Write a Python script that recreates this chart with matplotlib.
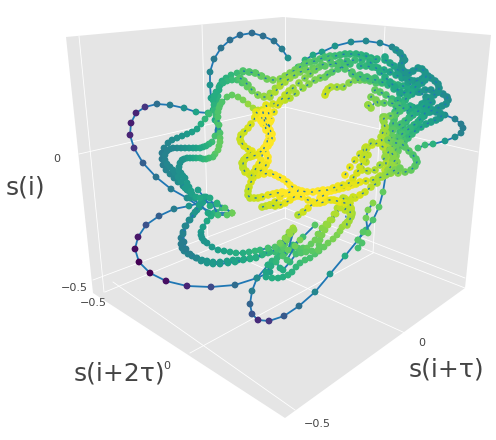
import matplotlib
matplotlib.use("Agg")
import matplotlib.pyplot as plt
from matplotlib.patches import Polygon

SCENE = [(66, 37), (283, 17), (491, 35), (465, 288), (285, 418), (93, 293)]
GRID = [
    [(79, 36), (104, 292)], [(202, 25), (208, 243)], [(285, 17), (285, 218)], [(385, 27), (373, 253)],
    [(79, 154), (285, 107), (478, 152)], [(93, 280), (285, 208), (465, 278)],
    [(105, 292), (285, 218), (465, 288)], [(113, 282), (295, 410)], [(208, 243), (405, 333)],
    [(190, 353), (373, 253)],
]

# sparse strands, line runs under the markers
top_arc_x = [218, 215, 213, 211, 210, 210, 214, 221, 230, 240, 252, 263, 274, 282, 288]
top_arc_y = [130, 120, 110, 98, 85, 72, 59, 48, 40, 35, 33, 36, 41, 49, 58]
top_arc_c = [.62, .60, .58, .56, .52, .46, .40, .38, .36, .35, .35, .36, .38, .42, .50]

right_arc_x = [290, 298, 305, 313, 322, 335, 351, 366, 380, 392, 400, 405]
right_arc_y = [77, 67, 60, 55, 52, 46, 42, 41, 43, 47, 53, 60]
right_arc_c = [.72, .68, .64, .60, .56, .52, .48, .47, .46, .46, .47, .50]

left_loop_x = [208, 196, 184, 170, 157, 145, 136, 131, 130, 134, 143, 156, 171, 187, 200, 214, 232]
left_loop_y = [113, 112, 108, 105, 104, 107, 113, 123, 135, 148, 163, 177, 189, 198, 207, 213, 213]
left_loop_c = [.66, .58, .50, .42, .36, .15, .10, .08, .10, .15, .30, .38, .42, .48, .55, .62, .78]

low_left_x = [232, 217, 203, 189, 174, 159, 146, 138, 135, 139, 150, 166, 187, 211, 235, 257, 270]
low_left_y = [213, 203, 202, 206, 209, 216, 225, 237, 249, 262, 273, 281, 286, 287, 285, 278, 272]
low_left_c = [.78, .66, .60, .52, .42, .30, .25, .06, .03, .00, .00, .04, .10, .22, .35, .46, .56]

low_right_x = [390, 386, 383, 379, 373, 366, 358, 345, 330, 315, 299, 284, 269, 258, 252, 250, 252, 257, 268, 280, 293, 303, 315]
low_right_y = [157, 173, 192, 207, 220, 230, 240, 256, 274, 292, 306, 316, 321, 320, 314, 304, 291, 278, 265, 255, 245, 237, 225]
low_right_c = [.80, .78, .76, .74, .72, .68, .66, .62, .54, .46, .36, .28, .16, .12, .26, .32, .42, .48, .56, .62, .66, .70, .74]

far_right_x = [400, 413, 430, 445, 455, 461, 463, 461, 455, 445, 433, 425, 418]
far_right_y = [103, 107, 110, 115, 119, 124, 128, 133, 137, 141, 144, 145, 148]
far_right_c = [.60, .58, .54, .48, .44, .42, .42, .44, .48, .54, .64, .68, .70]

# green strands on the left and lower side
arm_a_x = [262, 256, 250, 243, 237, 231, 226, 222, 220, 219, 218, 217, 216, 214, 209, 205, 201, 197, 192, 187, 182, 177, 172, 168, 164, 162, 162, 163, 166, 170, 174, 178, 183, 187, 191, 195]
arm_a_y = [76, 73, 72, 72, 73, 75, 78, 81, 85, 90, 96, 101, 106, 110, 114, 119, 124, 129, 132, 134, 136, 138, 140, 143, 148, 153, 159, 165, 170, 174, 178, 182, 186, 190, 194, 198]
arm_a_c = [.74, .74, .72, .70, .68, .66, .64, .62, .62, .62, .64, .64, .66, .68, .68, .66, .62, .58, .56, .54, .52, .50, .48, .46, .44, .42, .42, .42, .44, .46, .46, .48, .48, .50, .52, .54]

arm_b_x = [280, 275, 270, 264, 258, 252, 247, 242, 237, 232, 227, 223, 219, 216, 214, 213, 214, 215, 216, 217, 215, 212, 209, 206, 203, 200, 196, 193, 189, 185, 181, 177, 173, 170, 167, 165, 165, 167, 170, 173, 175, 178, 181, 185, 189, 192, 196, 200]
arm_b_y = [83, 88, 93, 96, 95, 91, 87, 83, 80, 80, 81, 83, 87, 92, 96, 100, 105, 110, 115, 122, 136, 142, 144, 146, 147, 148, 148, 148, 148, 148, 148, 148, 148, 149, 151, 155, 160, 164, 167, 170, 173, 177, 182, 188, 191, 194, 197, 198]
arm_b_c = [.84, .84, .84, .84, .80, .78, .76, .72, .70, .68, .66, .64, .62, .62, .62, .62, .64, .66, .68, .70, .70, .68, .66, .64, .62, .60, .58, .56, .54, .52, .50, .48, .46, .46, .44, .44, .44, .46, .46, .48, .48, .50, .52, .54, .54, .56, .58, .60]

arm_c_x = [266, 262, 258, 253, 248, 243, 238, 232, 227, 222, 220, 219, 218, 218, 219, 220, 220, 220, 219, 218, 215, 213, 209, 206, 203, 200, 196, 193, 190, 187, 184, 182, 180, 179, 179, 181, 183, 185, 187, 189, 191]
arm_c_y = [112, 112, 110, 108, 104, 100, 97, 95, 97, 102, 105, 108, 112, 117, 125, 133, 138, 142, 146, 150, 154, 157, 158, 159, 159, 158, 158, 158, 158, 158, 159, 160, 163, 167, 171, 173, 176, 178, 183, 187, 191]
arm_c_c = [.96, .94, .90, .86, .84, .80, .78, .76, .74, .72, .72, .72, .72, .72, .72, .72, .74, .76, .76, .76, .74, .72, .70, .68, .66, .64, .62, .60, .58, .56, .54, .52, .50, .50, .50, .50, .52, .52, .54, .54, .56]

base_a_x = [206, 202, 197, 193, 189, 185, 183, 181, 181, 182, 184, 188, 192, 197, 202, 207, 213, 220, 227, 233, 238, 244, 250, 256, 262, 268, 275, 281, 285, 288, 293]
base_a_y = [197, 203, 210, 215, 220, 226, 232, 238, 244, 248, 251, 254, 256, 258, 260, 261, 262, 262, 261, 260, 260, 259, 258, 257, 255, 253, 252, 250, 244, 236, 228]
base_a_c = [.58, .56, .54, .50, .48, .46, .44, .42, .42, .42, .44, .46, .46, .48, .50, .52, .54, .54, .56, .58, .58, .60, .62, .62, .64, .66, .68, .72, .76, .80, .86]

base_b_x = [199, 195, 190, 186, 183, 184, 186, 190, 196, 201, 207, 213, 220, 228, 235, 243, 250, 256, 263, 270, 277, 283, 288, 292]
base_b_y = [205, 212, 220, 226, 234, 242, 249, 254, 258, 261, 263, 264, 264, 263, 262, 260, 259, 258, 254, 252, 249, 247, 238, 232]
base_b_c = [.56, .52, .48, .46, .44, .42, .42, .44, .46, .50, .52, .54, .54, .56, .58, .60, .62, .62, .64, .66, .70, .74, .80, .86]

base_c_x = [222, 216, 211, 207, 203, 201, 201, 202, 204, 207, 212, 218, 224, 230, 236, 243, 249, 255, 260, 268, 275, 281, 287]
base_c_y = [208, 212, 216, 221, 227, 232, 235, 238, 241, 243, 247, 250, 251, 252, 253, 253, 252, 251, 250, 248, 247, 244, 240]
base_c_c = [.68, .64, .62, .60, .56, .54, .52, .52, .52, .52, .54, .56, .58, .60, .62, .62, .64, .66, .66, .70, .72, .76, .80]

cluster_x = [198, 204, 210, 217, 225, 232, 227, 218, 210, 190, 200, 208]
cluster_y = [190, 197, 206, 204, 208, 213, 215, 215, 198, 198, 204, 213]
cluster_c = [.56, .58, .62, .64, .72, .78, .74, .68, .60, .52, .56, .60]

rise_a_x = [266, 272, 278, 283, 288, 292, 296, 300, 305, 310, 315, 319, 324, 328, 333, 337, 340, 342, 345, 347, 350, 352]
rise_a_y = [277, 278, 278, 277, 275, 272, 267, 263, 260, 258, 254, 251, 247, 243, 239, 235, 231, 227, 224, 222, 218, 215]
rise_a_c = [.60, .62, .62, .62, .64, .64, .66, .68, .70, .70, .72, .74, .76, .78, .80, .80, .82, .84, .86, .86, .88, .88]

rise_b_x = [268, 272, 277, 281, 285, 292, 298, 303, 307, 311, 315, 318, 322, 326, 330, 334, 337, 340, 342]
rise_b_y = [265, 261, 258, 255, 253, 250, 248, 248, 248, 244, 240, 234, 228, 224, 220, 214, 208, 204, 200]
rise_b_c = [.62, .64, .66, .66, .68, .70, .72, .74, .76, .76, .78, .80, .82, .84, .86, .88, .88, .90, .92]

rise_c_x = [266, 271, 276, 280, 283, 290, 296, 301, 306, 312, 318, 319, 320, 322, 325, 328, 332, 336, 340, 343, 345]
rise_c_y = [272, 266, 262, 268, 270, 262, 254, 253, 252, 251, 250, 245, 240, 235, 230, 225, 220, 214, 208, 203, 198]
rise_c_c = [.58, .62, .66, .62, .62, .66, .70, .72, .74, .74, .76, .76, .78, .80, .82, .84, .86, .88, .90, .92, .94]

tongue_x = [293, 289, 285, 280, 290, 294, 288, 283, 287, 295, 300]
tongue_y = [228, 232, 238, 243, 234, 230, 250, 256, 260, 246, 240]
tongue_c = [.86, .84, .82, .78, .84, .84, .76, .72, .70, .78, .80]

side_x = [373, 368, 366, 368, 363, 358, 362, 358]
side_y = [203, 210, 218, 233, 232, 240, 243, 248]
side_c = [.82, .80, .78, .76, .74, .72, .72, .70]

# ring strands, these get the dotted line on top
top_a_x = [243, 249, 255, 261, 267, 273, 280, 285, 290, 295, 300, 305, 310, 315, 320, 325, 330, 335, 340, 345, 350, 356, 361, 366, 371, 376]
top_a_y = [71, 72, 73, 76, 79, 80, 79, 76, 73, 70, 67, 64, 62, 61, 59, 57, 56, 56, 55, 54, 54, 54, 55, 56, 58, 60]
top_a_c = [.72, .72, .74, .76, .78, .80, .82, .82, .80, .78, .76, .74, .74, .72, .72, .70, .70, .68, .68, .66, .66, .64, .64, .62, .62, .60]

top_b_x = [240, 244, 248, 252, 258, 264, 270, 275, 280, 285, 290, 295, 300, 306, 313, 319, 325, 332, 340, 347, 355, 362, 370, 377, 385]
top_b_y = [78, 81, 85, 90, 95, 97, 97, 92, 86, 82, 78, 75, 72, 70, 68, 67, 66, 64, 62, 61, 60, 60, 60, 59, 57]
top_b_c = [.72, .74, .76, .78, .82, .84, .86, .88, .88, .86, .84, .82, .80, .78, .76, .76, .74, .72, .70, .68, .68, .66, .66, .64, .60]

top_c_x = [255, 258, 262, 267, 273, 280, 285, 290, 296, 303, 309, 315, 320, 325, 328, 332, 338, 344, 350]
top_c_y = [117, 113, 110, 107, 104, 102, 100, 98, 93, 88, 84, 80, 78, 77, 74, 72, 69, 66, 64]
top_c_c = [.98, .96, .94, .92, .92, .90, .90, .88, .86, .84, .82, .80, .80, .78, .76, .74, .72, .70, .68]

top_d_x = [271, 274, 278, 281, 285, 289, 293, 299, 305, 310, 315, 322, 330, 337, 345, 352, 360, 367, 375]
top_d_y = [120, 112, 105, 100, 95, 91, 88, 83, 78, 74, 70, 65, 60, 64, 69, 72, 75, 77, 78]
top_d_c = [1.0, .96, .94, .92, .90, .88, .86, .84, .82, .80, .78, .74, .72, .72, .72, .72, .70, .70, .68]

tip_x = [325, 326, 328, 331, 337, 343, 349, 355, 360, 365, 370, 376, 382, 388, 393, 398, 403, 408]
tip_y = [95, 92, 89, 87, 87, 87, 83, 80, 80, 80, 81, 83, 83, 83, 84, 85, 86, 88]
tip_c = [.92, .92, .90, .88, .86, .84, .82, .80, .78, .76, .74, .72, .70, .68, .66, .64, .62, .60]

body_a_x = [360, 366, 372, 378, 384, 390, 396, 402, 408, 414, 420, 426, 430]
body_a_y = [66, 66, 67, 68, 70, 72, 75, 78, 82, 87, 92, 97, 101]
body_a_c = [.66, .66, .64, .62, .60, .58, .58, .56, .56, .56, .54, .52, .52]

body_b_x = [352, 358, 364, 370, 376, 382, 388, 394, 400, 405, 410, 414]
body_b_y = [74, 76, 78, 79, 80, 82, 85, 89, 94, 100, 106, 112]
body_b_c = [.72, .72, .70, .70, .68, .66, .64, .62, .62, .62, .62, .60]

body_c_x = [383, 384, 385, 386, 387, 388, 387, 386, 386, 385]
body_c_y = [117, 122, 127, 133, 139, 145, 151, 157, 163, 170]
body_c_c = [.80, .82, .84, .84, .86, .86, .86, .88, .88, .90]

body_d_x = [398, 396, 395, 394, 393, 393, 392, 391, 392, 393]
body_d_y = [100, 106, 112, 118, 124, 130, 136, 142, 148, 154]
body_d_c = [.64, .66, .68, .70, .72, .74, .76, .78, .78, .80]

hump_a_x = [396, 400, 403, 403, 401, 402, 405, 409, 413, 418, 422, 425, 426, 425, 422, 418, 414, 411, 408, 405, 402, 399, 396, 394, 392, 390, 389, 388, 387, 386]
hump_a_y = [50, 53, 57, 61, 65, 69, 72, 73, 71, 68, 69, 72, 76, 80, 83, 85, 88, 92, 96, 100, 104, 109, 114, 120, 126, 131, 136, 141, 146, 152]
hump_a_c = [.50, .50, .50, .50, .52, .52, .52, .52, .52, .52, .52, .52, .52, .54, .54, .56, .58, .60, .62, .64, .66, .68, .70, .72, .74, .76, .78, .80, .80, .82]

hump_b_x = [385, 390, 394, 398, 402, 406, 410, 414, 418, 422, 425, 428, 431, 435, 438, 439, 438, 434, 430, 426, 422, 418, 414, 410, 406, 403, 400, 397, 394, 392, 390, 388, 387]
hump_b_y = [60, 63, 66, 70, 74, 77, 80, 81, 81, 79, 76, 76, 78, 81, 84, 88, 92, 95, 98, 101, 104, 108, 112, 117, 122, 127, 132, 137, 142, 147, 152, 158, 165]
hump_b_c = [.60, .58, .58, .56, .56, .54, .54, .54, .52, .52, .50, .50, .50, .50, .50, .50, .52, .52, .54, .54, .56, .58, .60, .62, .64, .66, .68, .72, .74, .76, .80, .82, .84]

hump_c_x = [370, 375, 380, 385, 390, 395, 400, 406, 412, 418, 425, 431, 438, 443, 447, 448, 446, 442, 438, 433, 428, 424, 420, 415, 410, 406, 402, 399, 396, 394, 392]
hump_c_y = [62, 67, 72, 77, 82, 87, 92, 93, 94, 92, 90, 90, 92, 94, 97, 100, 104, 106, 108, 110, 112, 116, 120, 125, 130, 134, 138, 143, 148, 154, 160]
hump_c_c = [.64, .64, .62, .62, .60, .60, .58, .58, .56, .54, .52, .50, .50, .48, .48, .48, .50, .50, .52, .54, .56, .56, .58, .60, .64, .66, .70, .72, .76, .78, .82]

hump_d_x = [368, 371, 375, 380, 386, 392, 398, 404, 410, 417, 424, 430, 436, 440, 442, 440, 436, 431, 426, 421, 416, 412, 408, 404, 400, 398, 396, 397, 398]
hump_d_y = [105, 97, 90, 92, 95, 99, 104, 108, 112, 112, 112, 112, 112, 113, 115, 118, 120, 122, 124, 127, 130, 134, 138, 142, 146, 151, 156, 162, 168]
hump_d_c = [.82, .80, .76, .74, .72, .68, .66, .62, .60, .58, .56, .54, .52, .52, .52, .52, .54, .56, .58, .60, .62, .66, .68, .70, .72, .76, .80, .82, .84]

fan_x = [385, 389, 393, 397, 401, 405, 409, 413, 417, 421, 424, 428, 432, 429, 426, 422, 418, 414, 410, 406, 402, 398, 395, 392, 390, 389, 388]
fan_y = [132, 130, 128, 126, 124, 121, 118, 115, 112, 109, 106, 104, 102, 107, 112, 117, 122, 125, 128, 131, 134, 138, 142, 146, 150, 154, 158]
fan_c = [.78, .76, .74, .72, .70, .68, .66, .64, .62, .60, .58, .56, .54, .56, .58, .60, .62, .64, .66, .68, .70, .72, .74, .76, .78, .80, .82]

inner_x = [368, 371, 376, 378, 384, 391, 398, 405, 400, 395, 390, 385, 383, 385, 383, 381, 382, 383, 378, 372, 366, 364, 363]
inner_y = [105, 108, 100, 103, 103, 103, 105, 107, 111, 115, 116, 117, 120, 127, 132, 137, 142, 147, 143, 145, 147, 152, 157]
inner_c = [.84, .84, .80, .80, .76, .72, .70, .66, .70, .74, .78, .82, .84, .86, .86, .88, .88, .88, .90, .92, .94, .94, .96]

lobe_x = [388, 392, 396, 401, 405, 409, 413, 416, 417, 415, 411, 405, 398, 391, 385, 380]
lobe_y = [140, 142, 143, 143, 147, 151, 155, 159, 162, 166, 170, 172, 173, 173, 175, 176]
lobe_c = [.80, .78, .76, .76, .74, .74, .72, .72, .72, .74, .76, .78, .82, .86, .88, .90]

mesh_x = [345, 350, 355, 360, 365, 368, 366, 362, 368, 375, 380, 385, 390, 393, 395, 392, 388, 383, 377, 371, 365, 360, 355]
mesh_y = [175, 167, 160, 154, 148, 155, 162, 170, 171, 170, 165, 157, 150, 155, 160, 165, 170, 176, 183, 187, 192, 195, 198]
mesh_c = [.98, .96, .94, .92, .90, .90, .90, .92, .90, .88, .86, .84, .82, .82, .82, .84, .84, .86, .88, .90, .92, .94, .94]

blob_x = [343, 346, 349, 351, 352, 351, 349, 347, 345, 347, 350, 353]
blob_y = [198, 202, 206, 209, 213, 217, 221, 225, 210, 205, 200, 197]
blob_c = [.90, .88, .88, .86, .86, .86, .86, .86, .90, .90, .90, .92]

wall_x = [256, 259, 262, 265, 268, 270, 272, 272, 270, 268, 265, 266, 268, 268, 266, 264, 260, 257, 253, 251, 249, 248, 248, 250, 254, 258, 262, 268, 273, 277, 282]
wall_y = [112, 115, 118, 122, 126, 130, 134, 139, 143, 146, 149, 153, 157, 161, 165, 169, 171, 173, 178, 182, 187, 191, 195, 198, 198, 198, 197, 195, 194, 193, 192]
wall_c = [.96, .98, 1.0, 1.0, 1.0, 1.0, 1.0, 1.0, 1.0, 1.0, 1.0, 1.0, 1.0, 1.0, .98, .98, .96, .96, .94, .94, .92, .90, .90, .90, .92, .92, .94, .96, .98, .98, 1.0]

wall_b_x = [259, 261, 263, 266, 268, 269, 268, 266, 263, 260, 257, 253, 250, 246, 244, 243, 243, 245, 249, 253, 258, 264, 270, 275, 279, 283, 287, 290, 294, 298, 297, 294, 290, 285, 280, 275, 270]
wall_b_y = [118, 121, 124, 127, 131, 136, 141, 146, 150, 152, 155, 156, 157, 158, 160, 164, 168, 172, 174, 175, 175, 174, 173, 175, 177, 179, 182, 185, 188, 190, 194, 197, 200, 203, 205, 206, 205]
wall_b_c = [1.0, 1.0, 1.0, 1.0, 1.0, 1.0, 1.0, 1.0, .98, .98, .96, .96, .94, .94, .92, .92, .90, .92, .94, .96, .96, .98, .98, 1.0, 1.0, 1.0, 1.0, 1.0, 1.0, 1.0, 1.0, 1.0, .98, .96, .94, .92, .92]

wall_d_x = [255, 251, 248, 244, 241, 240, 241, 244, 248, 252, 250, 247, 244, 242, 243, 246]
wall_d_y = [118, 124, 128, 132, 135, 139, 142, 146, 149, 151, 154, 157, 160, 163, 167, 171]
wall_d_c = [.96, .94, .94, .92, .92, .92, .92, .94, .94, .96, .94, .92, .92, .90, .90, .92]

wall_e_x = [266, 268, 269, 266, 263, 266, 270, 267, 264, 261, 259, 256, 254, 251]
wall_e_y = [105, 110, 115, 119, 112, 130, 122, 143, 148, 160, 164, 168, 172, 176]
wall_e_c = [.96, 1.0, 1.0, 1.0, 1.0, 1.0, 1.0, 1.0, 1.0, .98, .98, .96, .94, .92]

low_a_x = [262, 266, 270, 275, 280, 285, 290, 296, 302, 307, 313, 318, 323, 328, 333, 338, 343, 349, 353, 357, 360, 363, 365, 367, 372]
low_a_y = [207, 206, 205, 202, 197, 194, 192, 191, 191, 192, 192, 191, 190, 190, 188, 186, 185, 183, 178, 173, 167, 160, 155, 148, 142]
low_a_c = [.90, .90, .92, .94, .98, 1.0, 1.0, 1.0, 1.0, 1.0, 1.0, 1.0, 1.0, 1.0, .98, .98, .96, .96, .94, .94, .92, .92, .90, .90, .88]

low_b_x = [298, 303, 308, 314, 320, 324, 327, 331, 335, 339, 343, 348, 352, 356, 360, 366, 373, 378, 382, 386, 390, 395, 400]
low_b_y = [215, 212, 208, 203, 198, 195, 192, 191, 190, 189, 188, 187, 185, 184, 182, 181, 180, 178, 177, 175, 173, 170, 168]
low_b_c = [.88, .92, .96, .98, 1.0, 1.0, 1.0, 1.0, 1.0, .98, .98, .98, .98, .96, .96, .94, .90, .88, .86, .84, .82, .80, .78]

low_c_x = [285, 289, 293, 298, 302, 308, 313, 317, 320, 324, 327, 331, 334, 337, 340, 345, 350, 351, 350]
low_c_y = [193, 194, 195, 196, 197, 200, 202, 203, 203, 202, 200, 200, 200, 201, 202, 203, 203, 208, 213]
low_c_c = [1.0, 1.0, 1.0, 1.0, 1.0, .98, .98, .98, .98, .98, .98, .96, .96, .96, .96, .94, .92, .90, .88]

SPARSE = [
    (top_arc_x, top_arc_y, top_arc_c), (right_arc_x, right_arc_y, right_arc_c),
    (left_loop_x, left_loop_y, left_loop_c), (low_left_x, low_left_y, low_left_c),
    (low_right_x, low_right_y, low_right_c), (far_right_x, far_right_y, far_right_c),
    (side_x, side_y, side_c), (rise_a_x, rise_a_y, rise_a_c), (rise_b_x, rise_b_y, rise_b_c),
    (rise_c_x, rise_c_y, rise_c_c), (base_a_x, base_a_y, base_a_c), (base_b_x, base_b_y, base_b_c),
    (base_c_x, base_c_y, base_c_c), (cluster_x, cluster_y, cluster_c), (tongue_x, tongue_y, tongue_c),
    (arm_a_x, arm_a_y, arm_a_c), (arm_b_x, arm_b_y, arm_b_c), (arm_c_x, arm_c_y, arm_c_c),
]
DENSE = [
    (top_a_x, top_a_y, top_a_c), (top_b_x, top_b_y, top_b_c), (top_c_x, top_c_y, top_c_c),
    (top_d_x, top_d_y, top_d_c), (tip_x, tip_y, tip_c), (body_a_x, body_a_y, body_a_c),
    (body_b_x, body_b_y, body_b_c), (hump_d_x, hump_d_y, hump_d_c), (hump_c_x, hump_c_y, hump_c_c),
    (hump_b_x, hump_b_y, hump_b_c), (hump_a_x, hump_a_y, hump_a_c), (fan_x, fan_y, fan_c),
    (body_d_x, body_d_y, body_d_c), (body_c_x, body_c_y, body_c_c), (inner_x, inner_y, inner_c),
    (lobe_x, lobe_y, lobe_c), (mesh_x, mesh_y, mesh_c), (blob_x, blob_y, blob_c),
    (low_c_x, low_c_y, low_c_c), (low_b_x, low_b_y, low_b_c), (low_a_x, low_a_y, low_a_c),
    (wall_d_x, wall_d_y, wall_d_c), (wall_b_x, wall_b_y, wall_b_c), (wall_x, wall_y, wall_c),
    (wall_e_x, wall_e_y, wall_e_c),
]

TICKS = [("0", 57, 159), ("\u22120.5", 74, 288), ("\u22120.5", 93, 303), ("0", 167, 366),
         ("0", 422, 343), ("\u22120.5", 317, 424)]
TITLES = [("s(i)", 25, 188), ("s(i+2\u03c4)", 119, 374), ("s(i+\u03c4)", 446, 370)]


fig = plt.figure(figsize=(4.96, 4.40), dpi=100)
ax = fig.add_axes([0, 0, 1, 1])
ax.set_xlim(0, 496)
ax.set_ylim(440, 0)
ax.axis("off")

ax.add_patch(Polygon(SCENE, closed=True, facecolor="#e5e5e5", edgecolor="none", zorder=1))
for line in GRID:
    ax.plot([p[0] for p in line], [p[1] for p in line], color="white", lw=0.6, zorder=2)

z = 3
for xs, ys, cs in SPARSE:
    ax.plot(xs, ys, color="#1f77b4", lw=1.3, zorder=z)
    ax.scatter(xs, ys, c=cs, cmap="viridis", vmin=0, vmax=1, s=24, linewidths=0, zorder=z + 1)
    z += 2

for xs, ys, cs in DENSE:
    ax.scatter(xs, ys, c=cs, cmap="viridis", vmin=0, vmax=1, s=30, linewidths=0, zorder=z)
    ax.plot(xs, ys, color="#1f77b4", lw=1.0, ls=(0, (1.5, 4)), zorder=z + 1)
    z += 2

for text, x, y in TICKS:
    ax.text(x, y, text, color="#444444", fontsize=8, ha="center", va="center", zorder=z)
for text, x, y in TITLES:
    ax.text(x, y, text, color="#444444", fontsize=18, ha="center", va="center", zorder=z)

fig.savefig("out.png", dpi=100)
